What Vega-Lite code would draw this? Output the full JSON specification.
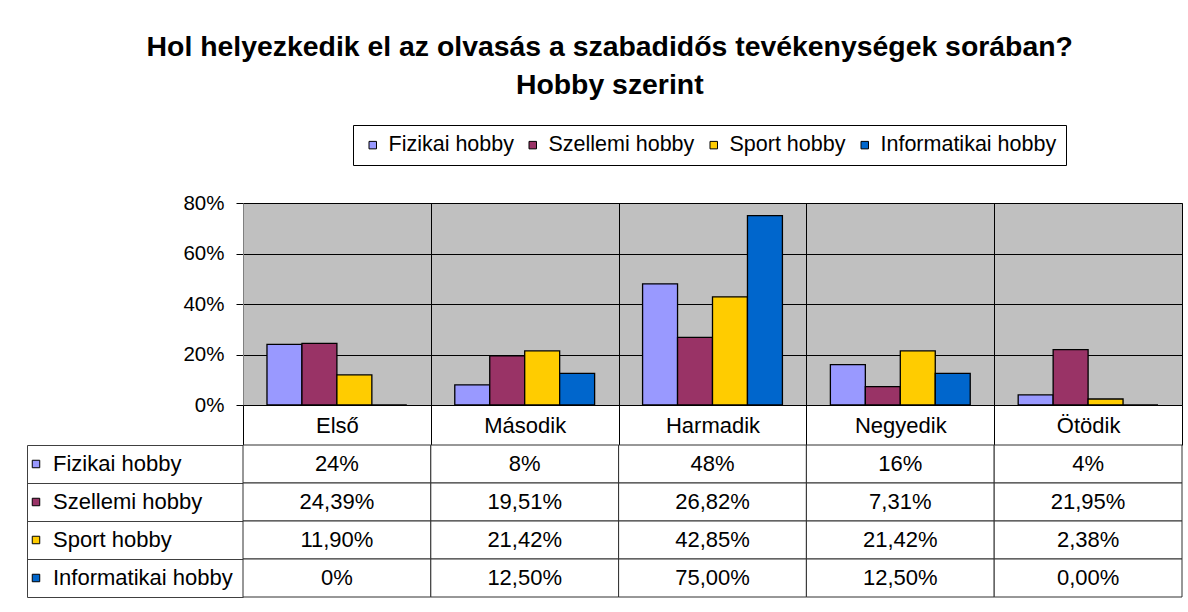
{
  "$schema": "https://vega.github.io/schema/vega-lite/v6.json",
  "background": "white",
  "padding": {"left": 25, "top": 32, "right": 5, "bottom": 5},
  "spacing": 40,
  "bounds": "flush",
  "config": {"font": "Liberation Sans"},
  "title": {
    "text": ["Hol helyezkedik el az olvasás a szabadidős tevékenységek sorában?", "Hobby szerint"],
    "fontSize": 28.4, "fontWeight": "bold", "lineHeight": 38, "anchor": "middle", "color": "black", "offset": 24, "dx": 6
  },
  "data": {"values": [
    {"cat": "Első", "series": "Fizikai hobby", "value": 0.24, "label": "24%"},
    {"cat": "Első", "series": "Szellemi hobby", "value": 0.2439, "label": "24,39%"},
    {"cat": "Első", "series": "Sport hobby", "value": 0.119, "label": "11,90%"},
    {"cat": "Első", "series": "Informatikai hobby", "value": 0, "label": "0%"},
    {"cat": "Második", "series": "Fizikai hobby", "value": 0.08, "label": "8%"},
    {"cat": "Második", "series": "Szellemi hobby", "value": 0.1951, "label": "19,51%"},
    {"cat": "Második", "series": "Sport hobby", "value": 0.2142, "label": "21,42%"},
    {"cat": "Második", "series": "Informatikai hobby", "value": 0.125, "label": "12,50%"},
    {"cat": "Harmadik", "series": "Fizikai hobby", "value": 0.48, "label": "48%"},
    {"cat": "Harmadik", "series": "Szellemi hobby", "value": 0.2682, "label": "26,82%"},
    {"cat": "Harmadik", "series": "Sport hobby", "value": 0.4285, "label": "42,85%"},
    {"cat": "Harmadik", "series": "Informatikai hobby", "value": 0.75, "label": "75,00%"},
    {"cat": "Negyedik", "series": "Fizikai hobby", "value": 0.16, "label": "16%"},
    {"cat": "Negyedik", "series": "Szellemi hobby", "value": 0.0731, "label": "7,31%"},
    {"cat": "Negyedik", "series": "Sport hobby", "value": 0.2142, "label": "21,42%"},
    {"cat": "Negyedik", "series": "Informatikai hobby", "value": 0.125, "label": "12,50%"},
    {"cat": "Ötödik", "series": "Fizikai hobby", "value": 0.04, "label": "4%"},
    {"cat": "Ötödik", "series": "Szellemi hobby", "value": 0.2195, "label": "21,95%"},
    {"cat": "Ötödik", "series": "Sport hobby", "value": 0.0238, "label": "2,38%"},
    {"cat": "Ötödik", "series": "Informatikai hobby", "value": 0, "label": "0,00%"}
  ]},
  "resolve": {"scale": {"color": "independent"}, "legend": {"color": "independent"}},
  "vconcat": [
    {
      "width": 939, "height": 202,
      "view": {"fill": "#C0C0C0", "stroke": "#808080"},
      "mark": {"type": "bar", "stroke": "black", "strokeWidth": 1.3},
      "encoding": {
        "x": {"field": "cat", "type": "nominal", "sort": ["Első", "Második", "Harmadik", "Negyedik", "Ötödik"],
          "scale": {"paddingInner": 0, "paddingOuter": 0},
          "axis": {"title": null, "labels": false, "ticks": false, "domain": false, "grid": true, "tickBand": "extent", "gridColor": "black", "gridOpacity": 1, "gridWidth": 1}},
        "xOffset": {"field": "series", "type": "nominal", "sort": ["Fizikai hobby", "Szellemi hobby", "Sport hobby", "Informatikai hobby"],
          "scale": {"paddingInner": 0, "paddingOuter": 0.686}},
        "y": {"field": "value", "type": "quantitative", "scale": {"domain": [0, 0.8]},
          "axis": {"title": null, "format": ".0%", "values": [0, 0.2, 0.4, 0.6, 0.8], "grid": true, "gridColor": "black", "gridOpacity": 1, "domainColor": "#808080", "tickColor": "black", "tickSize": 7, "labelFontSize": 20.5, "labelPadding": 12, "labelColor": "black"}},
        "color": {"field": "series", "type": "nominal",
          "scale": {"domain": ["Fizikai hobby", "Szellemi hobby", "Sport hobby", "Informatikai hobby"], "range": ["#9999FF", "#993366", "#FFCC00", "#0066CC"]},
          "legend": {"title": null, "orient": "none", "legendX": 110, "legendY": -78, "direction": "horizontal", "strokeColor": "black", "fillColor": "white", "padding": 9, "symbolType": "square", "symbolSize": 56, "symbolStrokeColor": "black", "symbolStrokeWidth": 1, "symbolOpacity": 1, "labelFontSize": 21.5, "labelOffset": 5, "columnPadding": 8, "labelColor": "black", "labelLimit": 300}}
      }
    },
    {
      "width": 939, "height": 152,
      "view": {"stroke": null},
      "encoding": {
        "x": {"field": "cat", "type": "nominal", "sort": ["Első", "Második", "Harmadik", "Negyedik", "Ötödik"],
          "scale": {"paddingInner": 0, "paddingOuter": 0},
          "axis": {"orient": "top", "title": null, "domain": false, "ticks": true, "tickSize": 40, "tickBand": "extent", "tickColor": "black", "labelFontSize": 22, "labelPadding": -20, "labelBaseline": "middle", "labelColor": "black", "labelAngle": 0}},
        "y": {"field": "series", "type": "nominal", "sort": ["Fizikai hobby", "Szellemi hobby", "Sport hobby", "Informatikai hobby"],
          "scale": {"paddingInner": 0, "paddingOuter": 0},
          "axis": {"title": null, "labels": false, "offset": 216, "domainColor": "#404040", "tickColor": "#404040", "tickSize": -216, "tickBand": "extent"}}
      },
      "layer": [
        {
          "mark": {"type": "square", "size": 10},
          "encoding": {
            "color": {"field": "series", "type": "nominal",
              "scale": {"domain": ["Fizikai hobby", "Szellemi hobby", "Sport hobby", "Informatikai hobby"], "range": ["#9999FF", "#993366", "#FFCC00", "#0066CC"]},
              "legend": {"title": null, "orient": "none", "legendX": -218, "legendY": 8, "direction": "vertical", "symbolType": "square", "symbolSize": 56, "symbolStrokeColor": "black", "symbolStrokeWidth": 1, "symbolOpacity": 1, "labelFontSize": 22, "labelOffset": 6, "rowPadding": 16, "padding": 0, "labelColor": "black", "labelLimit": 300}}
          }
        },
        {"mark": {"type": "rect", "fill": "white", "stroke": "#303030", "strokeWidth": 1}},
        {"mark": {"type": "text", "fontSize": 22, "color": "black"}, "encoding": {"text": {"field": "label"}}}
      ]
    }
  ]
}
